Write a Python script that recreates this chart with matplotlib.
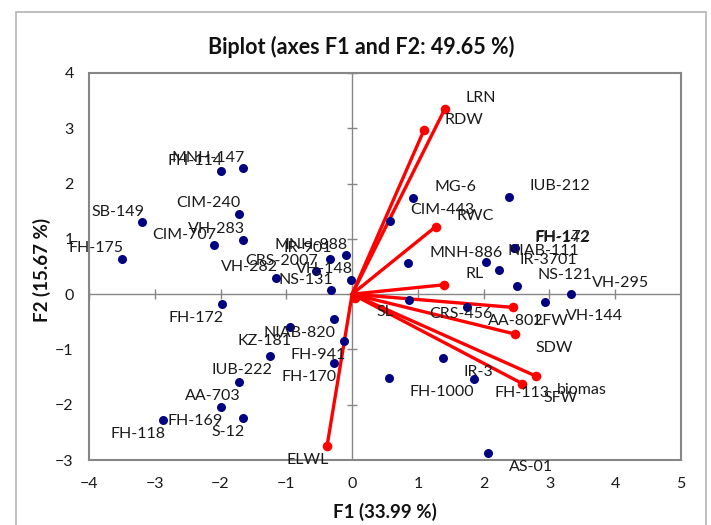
import matplotlib
matplotlib.use('Agg')
import matplotlib.pyplot as plt
from matplotlib.patches import Rectangle

plt.rcParams['font.family'] = ['Lato', 'DejaVu Sans']

# Observations (blue points)
obs_names = ['FH-175', 'SB-149', 'FH-114', 'MNH-147', 'CIM-240', 'VH-283', 'CIM-707',
             'VH-282', 'CRS-2007', 'IR-901', 'MNH-888', 'VH-148', 'NS-131', 'FH-172',
             'NIAB-820', 'KZ-181', 'FH-941', 'FH-170', 'IUB-222', 'AA-703', 'FH-169',
             'S-12', 'FH-118', 'MG-6', 'CIM-443', 'IUB-212', 'MNH-886', 'NIAB-111',
             'IR-3701', 'FH-142', 'FH-172', 'NS-121', 'VH-295', 'VH-144', 'CRS-456',
             'AA-802', 'IR-3', 'FH-1000', 'FH-113', 'AS-01']
obs_f1 = [-3.50, -3.19, -2.00, -1.66, -1.72, -1.66, -2.10,
          -1.15, -0.55, -0.33, -0.10, -0.02, -0.32, -1.98,
          -0.28, -0.95, -0.12, -0.27, -1.25, -1.72, -2.00,
          -1.66, -2.87, 0.93, 0.57, 2.38, 0.85, 2.04,
          2.23, 2.46, 2.47, 2.50, 3.33, 2.93, 0.86,
          1.75, 1.38, 0.56, 1.85, 2.06]
obs_f2 = [0.64, 1.30, 2.22, 2.28, 1.45, 0.98, 0.88,
          0.30, 0.41, 0.64, 0.70, 0.26, 0.07, -0.18,
          -0.45, -0.59, -0.84, -1.25, -1.11, -1.59, -2.04,
          -2.24, -2.27, 1.74, 1.33, 1.76, 0.56, 0.59,
          0.43, 0.83, 0.84, 0.15, 0.01, -0.15, -0.10,
          -0.24, -1.15, -1.51, -1.53, -2.88]

# Variables (red vectors)
var_names = ['LRN', 'RDW', 'RWC', 'RL', 'SL', 'LFW', 'SDW', 'biomas', 'SFW', 'ELWL']
var_f1 = [1.41, 1.09, 1.27, 1.40, 0.05, 2.45, 2.47, 2.79, 2.59, -0.38]
var_f2 = [3.35, 2.96, 1.22, 0.17, -0.07, -0.24, -0.72, -1.48, -1.62, -2.74]

x_ticks = [-4, -3, -2, -1, 0, 1, 2, 3, 4, 5]
y_ticks = [-3, -2, -1, 0, 1, 2, 3, 4]

title = 'Biplot (axes F1 and F2: 49.65 %)'
x_label = 'F1 (33.99 %)'
y_label = 'F2 (15.67 %)'

W, H = 711, 525
fig = plt.figure(figsize=(W / 100, H / 100), dpi=100)

# outer chart border
fig.patches.append(Rectangle((16 / W, -0.1), 690 / W, 1.1 - 12 / H,
                             transform=fig.transFigure, fill=False,
                             edgecolor='#b4b4b4', linewidth=1.2, zorder=0))

ax = fig.add_axes([89 / W, 65 / H, 592 / W, 387 / H])
ax.set_xlim(x_ticks[0], x_ticks[-1])
ax.set_ylim(y_ticks[0], y_ticks[-1])
for s in ax.spines.values():
    s.set_color('#868686')
    s.set_linewidth(1.5)

ax.set_xticks(x_ticks)
ax.set_yticks(y_ticks)
ax.tick_params(length=0, labelsize=11.5, labelcolor='#1a1a1a')
ax.tick_params(axis='x', pad=12.5)
ax.tick_params(axis='y', pad=11)

# zero axes with crossing tick marks
ax.axhline(0, color='#868686', lw=1.0, zorder=1)
ax.axvline(0, color='#868686', lw=1.0, zorder=1)
ax.plot(x_ticks, [0] * len(x_ticks), linestyle='none', marker='|',
        markersize=7.5, markeredgewidth=1.0, color='#868686', zorder=1)
ax.plot([0] * len(y_ticks), y_ticks, linestyle='none', marker='_',
        markersize=7.5, markeredgewidth=1.0, color='#868686', zorder=1)

# red vectors
for x, y in zip(var_f1, var_f2):
    ax.plot([0, x], [0, y], color='#ff0000', lw=2.4, zorder=2,
            solid_capstyle='round')

# points
ax.scatter(obs_f1, obs_f2, s=42, color='#000080', zorder=3, linewidths=0)
ax.scatter(var_f1, var_f2, s=48, color='#ff0000', zorder=4, linewidths=0)


def label(name, x, y):
    if x >= 0:
        dx, ha = 21, 'left'
    else:
        dx, ha = 2, 'right'
    dy = 10.5 if y >= 0 else -14
    ax.annotate(name, (x, y), xytext=(dx, dy), textcoords='offset pixels',
                ha=ha, va='center', fontsize=11.5, color='#1a1a1a', zorder=5,
                annotation_clip=False)


for n, x, y in zip(obs_names, obs_f1, obs_f2):
    label(n, x, y)
for n, x, y in zip(var_names, var_f1, var_f2):
    label(n, x, y)

fig.text(361 / W, 1 - 47 / H, title, ha='center', va='center',
         fontsize=15.5, fontweight='bold', color='#111111')
fig.text(385 / W, 1 - 512 / H, x_label, ha='center', va='center',
         fontsize=13.5, fontweight='bold', color='#111111')
fig.text(42 / W, 1 - 270 / H, y_label, ha='center', va='center', rotation=90,
         fontsize=13.5, fontweight='bold', color='#111111')

fig.savefig('out.png', dpi=100)
